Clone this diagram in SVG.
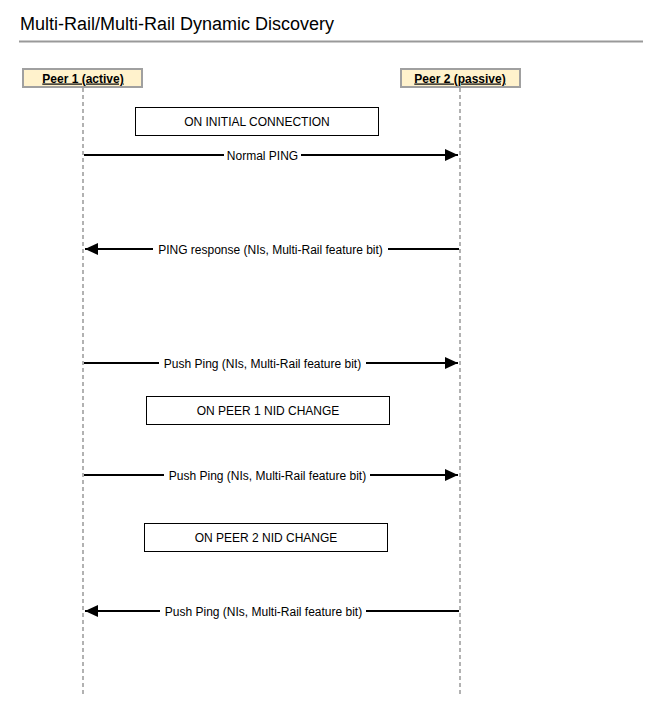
<svg xmlns="http://www.w3.org/2000/svg" width="668" height="717" viewBox="0 0 668 717">
<defs>
<style>
text{font-family:"Liberation Sans",Arial,sans-serif;fill:#000}
.title{font-size:18px}
.peer rect{fill:#fff2cc;stroke:#a0a0a0;stroke-width:2}
.peer text{font-size:12px;font-weight:bold;text-anchor:middle;text-decoration:underline}
.life{stroke:#999;stroke-width:1.5;stroke-dasharray:4 3;fill:none}
.note rect{fill:#fff;stroke:#000;stroke-width:1}
.note text{font-size:12px;text-anchor:middle}
.msg line{stroke:#000;stroke-width:2}
.msg text{font-size:12px;text-anchor:middle}
.lbg{fill:#fff}
</style>
<marker id="ah" markerWidth="14" markerHeight="12" refX="13" refY="6" orient="auto" markerUnits="userSpaceOnUse">
<path d="M0,0 L13,6 L0,12 z" fill="#000"/>
</marker>
</defs>
<rect width="668" height="717" fill="#fff"/>
<text class="title" x="20" y="30">Multi-Rail/Multi-Rail Dynamic Discovery</text>
<line x1="19" y1="41.5" x2="643" y2="41.5" stroke="#999" stroke-width="2"/>

<g id="lifelines">
<line class="life" x1="83" y1="88" x2="83" y2="697"/>
<line class="life" x1="460" y1="88" x2="460" y2="694"/>
</g>

<g id="peer1" class="peer">
<rect x="23" y="69" width="119" height="18"/>
<text x="83" y="82.5">Peer 1 (active)</text>
</g>
<g id="peer2" class="peer">
<rect x="401" y="69" width="119" height="18"/>
<text x="460" y="82.5">Peer 2 (passive)</text>
</g>

<g id="note1" class="note">
<rect x="135.5" y="107.5" width="243" height="28"/>
<text x="257" y="126">ON INITIAL CONNECTION</text>
</g>
<g id="note2" class="note">
<rect x="146.5" y="396.5" width="243" height="28"/>
<text x="268" y="415">ON PEER 1 NID CHANGE</text>
</g>
<g id="note3" class="note">
<rect x="144.5" y="523.5" width="243" height="28"/>
<text x="266" y="542">ON PEER 2 NID CHANGE</text>
</g>

<g id="connectors" class="msg">
<g id="m1">
<line x1="84" y1="155" x2="458" y2="155" marker-end="url(#ah)"/>
<rect class="lbg" x="224" y="148" width="77" height="14"/>
<text x="262.5" y="159.5">Normal PING</text>
</g>
<g id="m2">
<line x1="459" y1="249" x2="85" y2="249" marker-end="url(#ah)"/>
<rect class="lbg" x="153" y="242" width="235" height="14"/>
<text x="270.5" y="253.5">PING response (NIs, Multi-Rail feature bit)</text>
</g>
<g id="m3">
<line x1="84" y1="363" x2="458" y2="363" marker-end="url(#ah)"/>
<rect class="lbg" x="159" y="356" width="207" height="14"/>
<text x="262.5" y="367.5">Push Ping (NIs, Multi-Rail feature bit)</text>
</g>
<g id="m4">
<line x1="84" y1="475" x2="458" y2="475" marker-end="url(#ah)"/>
<rect class="lbg" x="164" y="468" width="206" height="14"/>
<text x="267.5" y="479.5">Push Ping (NIs, Multi-Rail feature bit)</text>
</g>
<g id="m5">
<line x1="459" y1="611" x2="85" y2="611" marker-end="url(#ah)"/>
<rect class="lbg" x="160" y="604" width="206" height="14"/>
<text x="263.5" y="615.5">Push Ping (NIs, Multi-Rail feature bit)</text>
</g>
</g>
</svg>
